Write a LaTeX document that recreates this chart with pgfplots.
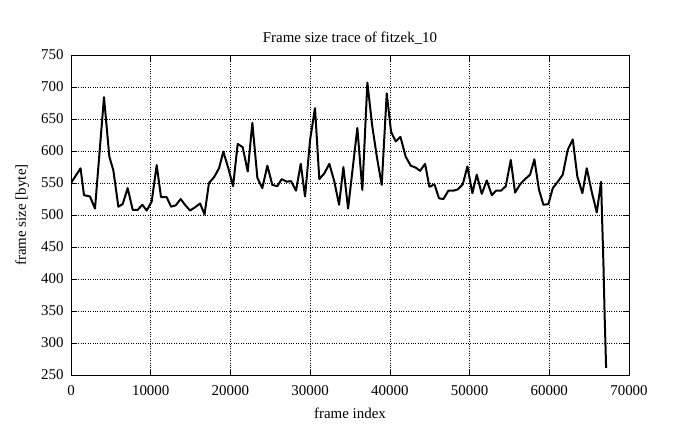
\documentclass[border=0pt]{standalone}
\usepackage{fontspec}
\setmainfont{Liberation Serif}
\usepackage{pgfplots}
\pgfplotsset{compat=1.18}
\begin{document}
\begin{tikzpicture}
\path[use as bounding box] (-71bp,-54bp) rectangle (624bp,375bp);
\begin{axis}[at={(0,0)}, anchor=south west, scale only axis,
  width=558bp, height=320bp,
  xmin=0, xmax=70000, ymin=250, ymax=750,
  xtick={0,10000,...,70000}, ytick={250,300,...,750},
  scaled x ticks=false,
  /pgf/number format/set thousands separator={},
  /pgf/number format/assume math mode=true,
  grid=major, major grid style={black, dotted, line width=0.7bp},
  tick align=inside, tick style={black, line width=0.7bp}, major tick length=6bp,
  axis line style={line width=0.9bp},
  tick label style={font=\fontsize{15}{17}\selectfont},
  label style={font=\fontsize{15}{17}\selectfont},
  title style={font=\fontsize{15}{17}\selectfont, yshift=1bp},
  title={Frame size trace of fitzek\_10},
  xlabel={frame index}, ylabel={frame size [byte]},
  xlabel style={yshift=-6bp},
  ylabel style={yshift=5bp},
  xticklabel style={yshift=-7bp},
  yticklabel style={xshift=-4bp},
]
\addplot[black, line width=2bp, line join=round] coordinates {
(0,550) (1200,573) (1630,531) (2380,529) (3010,510) (4140,684) (4810,591)
(5310,570) (5940,513) (6480,517) (7110,542) (7740,508) (8370,508) (8950,516)
(9500,507) (10120,521) (10750,578) (11290,528) (12000,528) (12550,513)
(13130,515) (13760,525) (14300,516) (14930,507) (15560,512) (16190,518)
(16750,501) (17310,550) (17940,559) (18570,573) (19110,599) (19740,573)
(20330,545) (20910,611) (21540,606) (22170,568) (22750,644) (23380,558)
(24000,542) (24630,577) (25260,547) (25880,545) (26430,556) (27060,552)
(27600,553) (28230,538) (28820,580) (29360,529) (29990,617) (30610,667)
(31150,556) (31780,565) (32410,580) (33040,552) (33630,516) (34170,575)
(34760,510) (35920,636) (36550,539) (37180,707) (37780,640) (38380,590)
(38980,547) (39610,690) (40150,630) (40740,615) (41330,622) (41990,591)
(42620,577) (43250,574) (43790,569) (44420,580) (44960,544) (45590,548)
(46170,526) (46720,525) (47340,538) (47970,538) (48520,540) (49150,548)
(49730,576) (50350,534) (50900,563) (51530,533) (52160,554) (52790,531)
(53320,538) (53950,538) (54540,545) (55170,586) (55710,535) (56340,548)
(56960,556) (57590,563) (58130,587) (58700,540) (59260,516) (59890,517)
(60440,542) (61070,552) (61690,563) (62320,602) (62950,618) (63520,560)
(64150,534) (64700,573) (65330,536) (65960,504) (66500,552) (66620,497)
(66800,420) (66950,340) (67130,261)
};
\end{axis}
\end{tikzpicture}
\end{document}
